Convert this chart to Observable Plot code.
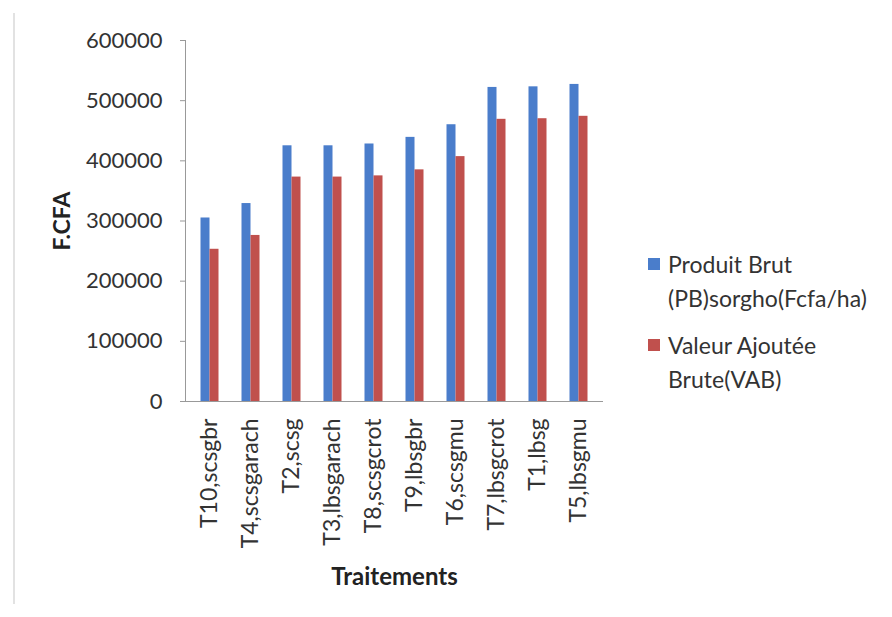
<!DOCTYPE html>
<html><head><meta charset="utf-8">
<script src="https://cdn.jsdelivr.net/npm/d3@7"></script>
<script src="https://cdn.jsdelivr.net/npm/@observablehq/plot@0.6"></script>
<style>
body{margin:0;background:#fff;}
#wrap{position:relative;width:892px;height:617px;font-family:Lato,sans-serif;overflow:hidden;}
#border{position:absolute;left:13px;top:13px;width:0;height:591px;border-left:2px solid #e2e2e2;}
#chart{position:absolute;left:0;top:0;}
.lg{position:absolute;left:648px;font-size:23px;line-height:34px;color:#333;}
.sw{position:absolute;left:0;width:12px;height:12px;}
.lt{position:absolute;left:20px;top:0;white-space:pre;}
</style></head><body>
<div id="wrap"><div id="border"></div><div id="chart"></div><div id="legend"></div></div>
<script>
const categories = ["T10,scsgbr","T4,scsgarach","T2,scsg","T3,lbsgarach","T8,scsgcrot","T9,lbsgbr","T6,scsgmu","T7,lbsgcrot","T1,lbsg","T5,lbsgmu"];
const produitBrut = [305000, 329000, 425000, 425000, 428000, 439000, 460000, 522000, 523000, 527000];
const valeurAjoutee = [253000, 276000, 373000, 373000, 375000, 385000, 407000, 469000, 470000, 474000];
const yTicks = [0, 100000, 200000, 300000, 400000, 500000, 600000];
const seriesNames = ["Produit Brut\n(PB)sorgho(Fcfa/ha)", "Valeur Ajoutée\nBrute(VAB)"];
const seriesColors = ["#4A7DCB", "#C0504D"];
const yLabel = "F.CFA";
const xLabel = "Traitements";

const rows = categories.map((c, i) => ({cat: c, pb: produitBrut[i], vab: valeurAjoutee[i]}));

const chart = Plot.plot({
  width: 892, height: 617,
  marginLeft: 185, marginRight: 289, marginTop: 40, marginBottom: 216,
  style: {fontFamily: "Lato, sans-serif", background: "transparent", color: "#333"},
  x: {domain: categories, paddingInner: 0.785, paddingOuter: 0.3925, label: null},
  y: {domain: [0, 600000], label: null},
  marks: [
    Plot.barY(rows, {x: "cat", y: "pb", fill: seriesColors[0], dx: -4.5}),
    Plot.barY(rows, {x: "cat", y: "vab", fill: seriesColors[1], dx: 4.5}),
    Plot.ruleY([0], {stroke: "#999"}),
    Plot.frame({anchor: "left", stroke: "#999"}),
    Plot.axisY({ticks: yTicks, tickFormat: d => String(d), tickSize: 5, tickPadding: 18, fontSize: 22, stroke: "#999", label: null}),
    Plot.axisX({tickSize: 0, tickRotate: -90, tickPadding: 17, fontSize: 23, label: null}),
    Plot.text([yLabel], {frameAnchor: "left", dx: -123, rotate: -90, textAnchor: "middle", lineAnchor: "middle", fontSize: 23, fontWeight: "bold", fill: "#222"}),
    Plot.text([xLabel], {frameAnchor: "bottom", dy: 176, textAnchor: "middle", lineAnchor: "middle", fontSize: 24, fontWeight: "bold", fill: "#222"})
  ]
});
document.getElementById("chart").appendChild(chart);

const legend = document.getElementById("legend");
const tops = [247, 328];
seriesNames.forEach((name, i) => {
  const item = document.createElement("div");
  item.className = "lg";
  item.style.top = tops[i] + "px";
  const sw = document.createElement("div");
  sw.className = "sw";
  sw.style.background = seriesColors[i];
  sw.style.top = "11px";
  const t = document.createElement("div");
  t.className = "lt";
  t.textContent = name;
  item.appendChild(sw); item.appendChild(t);
  legend.appendChild(item);
});
</script>
</body></html>
